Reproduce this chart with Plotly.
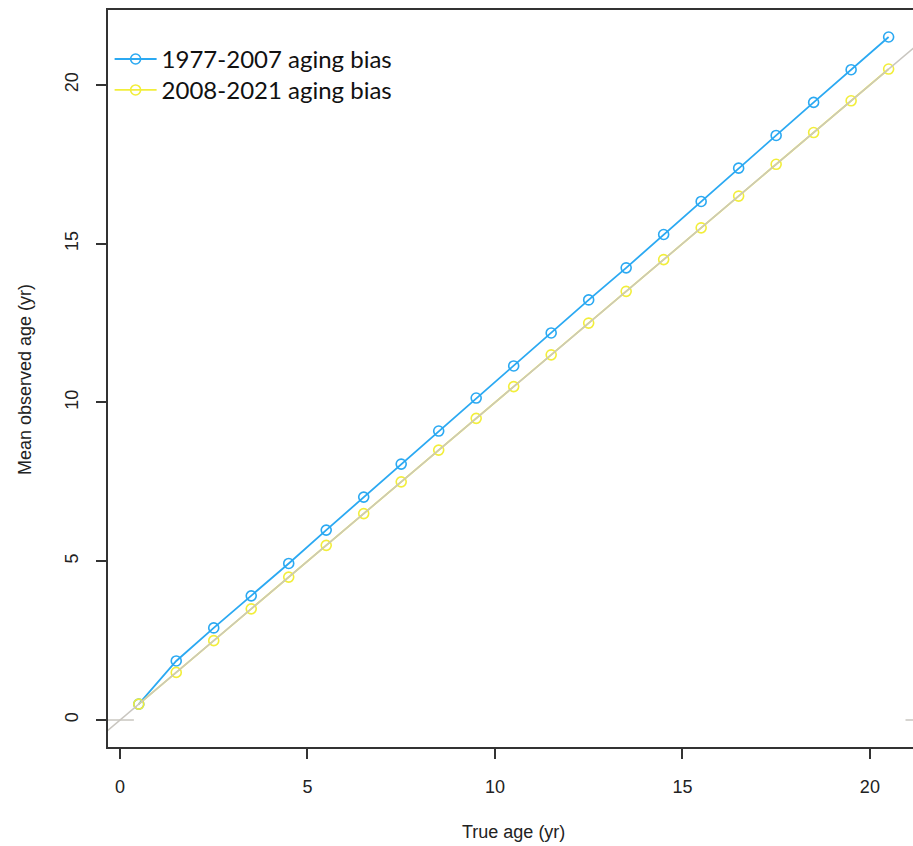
import plotly.graph_objects as go

true_age = [0.5, 1.5, 2.5, 3.5, 4.5, 5.5, 6.5, 7.5, 8.5, 9.5, 10.5,
            11.5, 12.5, 13.5, 14.5, 15.5, 16.5, 17.5, 18.5, 19.5, 20.5]
bias_1977_2007 = [0.5, 1.86, 2.90, 3.91, 4.93, 5.98, 7.02, 8.06, 9.10, 10.14, 11.15,
                  12.19, 13.23, 14.24, 15.29, 16.33, 17.38, 18.41, 19.45, 20.48, 21.51]
bias_2008_2021 = [0.5, 1.5, 2.5, 3.5, 4.5, 5.5, 6.5, 7.5, 8.5, 9.5, 10.5,
                  11.5, 12.5, 13.5, 14.5, 15.5, 16.5, 17.5, 18.5, 19.5, 20.5]
one_to_one = [-0.4, 22]
seg_left_x = [-0.4, 0.37]
seg_right_x = [20.95, 22]
seg_y = [0, 0]
x_ticks = [0, 5, 10, 15, 20]
y_ticks = [0, 5, 10, 15, 20]

BLUE = "#2ba9f2"
YELLOW = "#f2ee3a"
GRAY = "#c9c6c0"
AXIS_FONT = "Liberation Sans"

fig = go.Figure()
fig.add_trace(go.Scatter(x=seg_left_x, y=seg_y, mode="lines",
                         line=dict(color=GRAY, width=1.5), showlegend=False, hoverinfo="skip"))
fig.add_trace(go.Scatter(x=seg_right_x, y=seg_y, mode="lines",
                         line=dict(color=GRAY, width=1.5), showlegend=False, hoverinfo="skip"))
fig.add_trace(go.Scatter(x=true_age, y=bias_1977_2007, mode="lines+markers",
                         name="1977-2007 aging bias", legend="legend",
                         line=dict(color=BLUE, width=1.8),
                         marker=dict(symbol="circle-open", size=10, color=BLUE, line=dict(width=1.6))))
fig.add_trace(go.Scatter(x=true_age, y=bias_2008_2021, mode="lines+markers",
                         name="2008-2021 aging bias", legend="legend2",
                         line=dict(color=YELLOW, width=1.8),
                         marker=dict(symbol="circle-open", size=10, color=YELLOW, line=dict(width=1.6))))
fig.add_trace(go.Scatter(x=one_to_one, y=one_to_one, mode="lines",
                         line=dict(color=GRAY, width=1.5), showlegend=False, hoverinfo="skip"))

legend_style = dict(xanchor="left", yanchor="middle", bgcolor="rgba(0,0,0,0)",
                    font=dict(family="Lato", size=24, color="#111"),
                    itemwidth=42, borderwidth=0)

fig.update_layout(
    width=913, height=846,
    margin=dict(l=108, r=0, t=10, b=99),
    paper_bgcolor="white", plot_bgcolor="white",
    font=dict(family=AXIS_FONT, size=18, color="#222"),
    xaxis=dict(range=[-0.32, 21.15], tickvals=x_ticks, ticks="outside", ticklen=10,
               tickwidth=1.5, tickcolor="#333", showline=True, linecolor="#333", linewidth=2,
               mirror=True, showgrid=False, zeroline=False, automargin=False,
               ticklabelstandoff=12, tickfont=dict(family=AXIS_FONT, size=18, color="#222")),
    yaxis=dict(range=[-0.85, 22.36], tickvals=y_ticks, ticks="outside", ticklen=10,
               tickwidth=1.5, tickcolor="#333", showline=True, linecolor="#333", linewidth=2,
               showgrid=False, zeroline=False, tickangle=-90, automargin=False,
               ticklabelstandoff=11, tickfont=dict(family=AXIS_FONT, size=18, color="#222")),
    legend=dict(x=0.002, y=0.933, **legend_style),
    legend2=dict(x=0.002, y=0.891, **legend_style),
    annotations=[
        dict(text="True age (yr)", xref="paper", yref="paper", x=0.504, y=-0.1153,
             showarrow=False, xanchor="center", yanchor="middle",
             font=dict(family=AXIS_FONT, size=18, color="#222")),
        dict(text="Mean observed age (yr)", xref="paper", yref="paper", x=-0.103, y=0.498,
             showarrow=False, xanchor="center", yanchor="middle", textangle=-90,
             font=dict(family=AXIS_FONT, size=18, color="#222")),
    ],
)
fig.write_html("out.html", config={"displayModeBar": False},
               post_script="document.body.style.margin='0';document.body.style.overflow='hidden';")
